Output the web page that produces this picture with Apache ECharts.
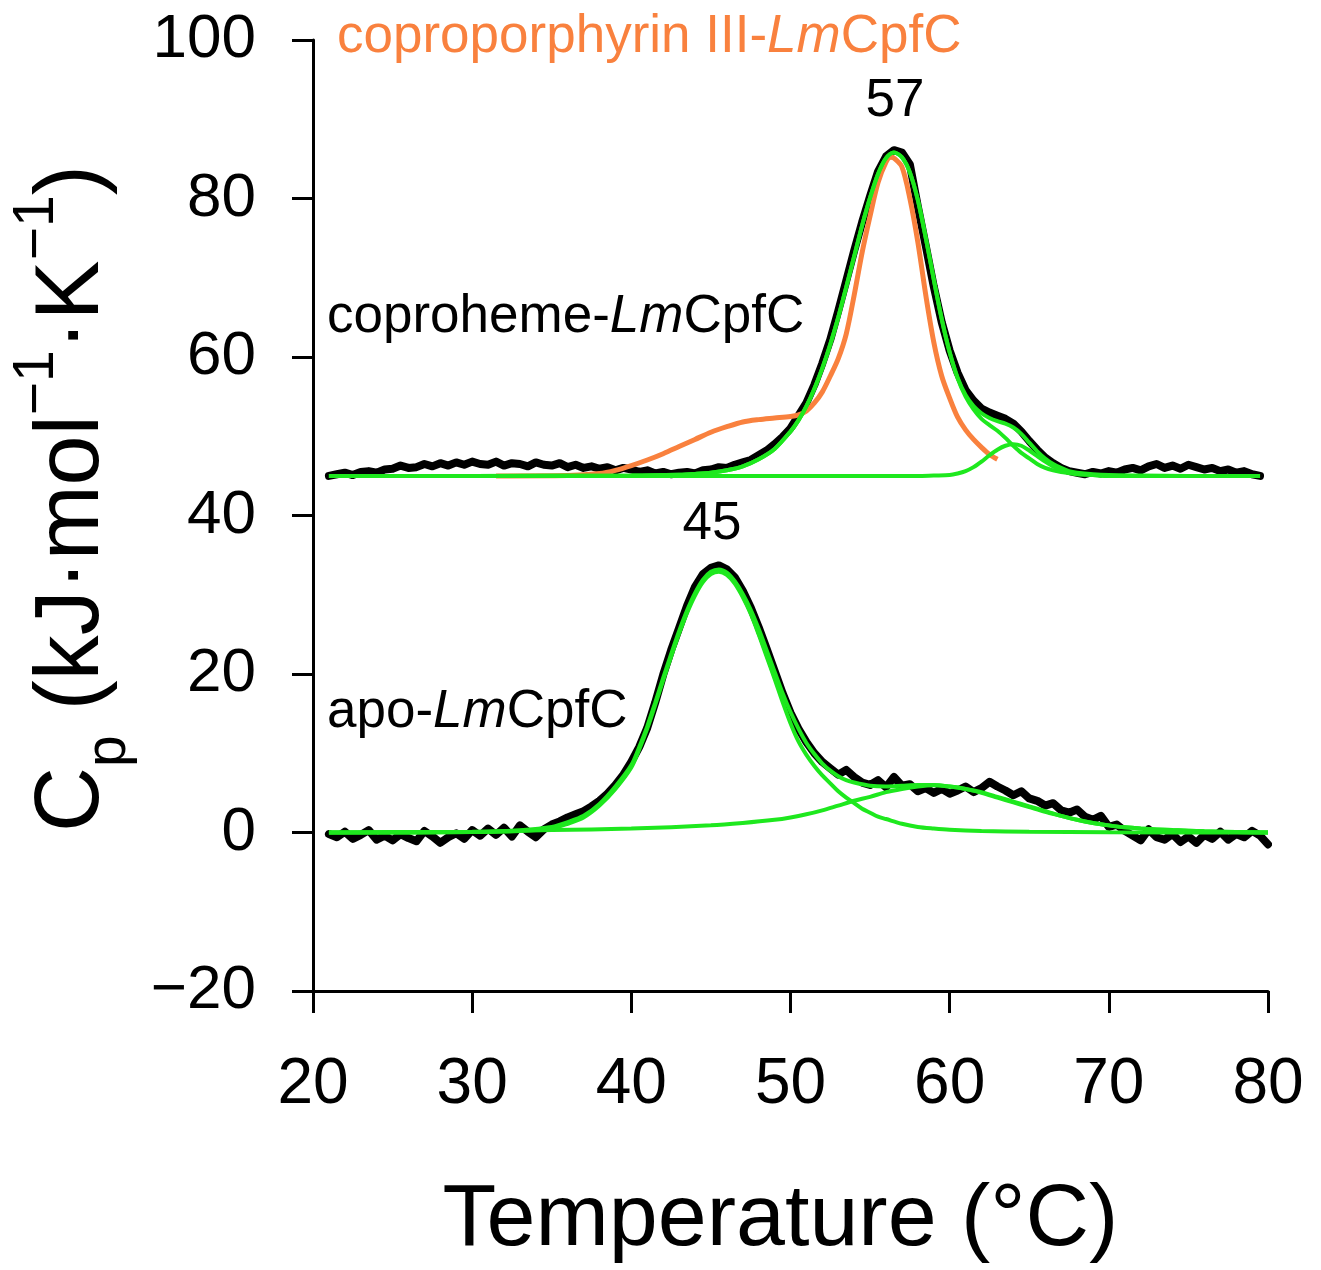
<!DOCTYPE html>
<html>
<head>
  <meta charset="utf-8">
  <title>DSC LmCpfC</title>
  <script src="https://cdn.jsdelivr.net/npm/echarts/dist/echarts.min.js"></script>
  <style type="text/css">
    body { margin: 0; background: #fff; }
    #chart { width: 1321px; height: 1270px; }
  </style>
</head>
<body>
<div id="chart"></div>
<script>
  // 扫描数据：起始温度 21 °C，步长 0.5 °C
  var scanStart = 21;
  var scanStep = 0.5;

  // coproheme-LmCpfC 实测 Cp (kJ/mol/K)，21.0 ~ 79.5 °C
  var cpCoproheme = [
    45.0, 45.2, 45.4, 45.1, 45.5, 45.6, 45.4, 45.8, 45.9, 46.3,
    46.0, 46.1, 46.5, 46.2, 46.6, 46.3, 46.7, 46.4, 46.8, 46.5,
    46.4, 46.8, 46.3, 46.6, 46.5, 46.2, 46.7, 46.4, 46.3, 46.6,
    46.1, 46.4, 46.0, 46.2, 45.9, 46.1, 45.7, 46.0, 45.8, 45.5,
    45.7, 45.3, 45.5, 45.2, 45.4, 45.5, 45.3, 45.7, 45.8, 46.1,
    46.0, 46.4, 46.7, 47.0, 47.6, 48.2, 49.0, 49.9, 51.0, 52.6,
    54.2, 56.5, 59.2, 62.2, 65.8, 69.6, 73.4, 77.0, 80.3, 83.4,
    85.3, 86.1, 85.8, 84.3, 79.0, 74.0, 68.9, 64.4, 60.8, 58.0,
    55.8, 54.5, 53.5, 53.0, 52.6, 52.2, 51.6, 50.6, 49.4, 48.3,
    47.3, 46.6, 46.0, 45.6, 45.4, 45.2, 45.5, 45.3, 45.6, 45.4,
    45.8, 46.0, 45.7, 46.2, 46.5, 46.0, 46.3, 45.9, 46.4, 46.1,
    45.8, 46.0, 45.6, 45.8, 45.4, 45.6, 45.2, 45.0
  ];

  // apo-LmCpfC 实测 Cp，21.0 ~ 80.0 °C
  var cpApo = [
    -0.2, -0.6, 0.1, -0.8, -0.3, 0.3, -0.9, -0.4, -1.0, -0.2,
    -0.7, -1.1, 0.2, -0.5, -1.3, -0.6, -0.1, -0.8, 0.3, -0.4,
    0.5, -0.3, 0.6, -0.5, 0.9, 0.1, -0.6, 0.4, 1.0, 1.4,
    1.9, 2.3, 2.7, 3.3, 4.0, 4.9, 6.0, 7.3, 8.9, 10.8,
    13.2, 16.4, 19.9, 23.0, 25.8, 28.6, 31.0, 32.6, 33.4, 33.7,
    33.2, 32.2, 30.5, 28.4, 25.9, 23.2, 20.4, 17.6, 15.1, 13.1,
    11.4, 10.0, 8.9, 8.1, 7.3, 7.9, 7.0, 6.3, 6.0, 6.6,
    5.7, 7.0, 5.9, 6.1, 5.2, 5.6, 5.0, 5.5, 4.9, 5.3,
    5.8, 5.1, 5.6, 6.4, 5.8, 5.3, 4.7, 5.2, 4.3, 4.0,
    3.4, 3.7, 2.8, 2.5, 2.9, 2.0, 1.6, 2.1, 0.7, 1.0,
    0.2, -0.4, -1.0, 0.4, -0.6, -0.9, -0.2, -1.2, -0.5, -1.3,
    -0.3, -0.8, 0.1, -0.9, -0.2, -0.6, 0.2, -0.4, -1.5
  ];

  // coproheme-LmCpfC 拟合：总拟合、主峰、64 °C 小峰
  var fitCoprohemeTotal = [
    [21, 45.0], [30, 45.0], [40, 45.05], [43, 45.15], [44, 45.25], [45, 45.4], [46, 45.7],
    [47, 46.2], [48, 47.1], [49, 48.4], [50, 50.6], [50.5, 52.0], [51, 53.8], [51.5, 56.0],
    [52, 58.6], [52.5, 61.6], [53, 65.0], [53.5, 68.8], [54, 72.7], [54.5, 76.6], [55, 80.1],
    [55.5, 83.1], [56, 85.1], [56.5, 85.8], [57, 85.2], [57.5, 83.3], [58, 79.8], [58.5, 75.0],
    [59, 69.8], [59.5, 64.8], [60, 60.6], [60.5, 57.4], [61, 55.2], [61.5, 53.8], [62, 52.9],
    [62.5, 52.3], [63, 51.9], [63.5, 51.6], [64, 51.1], [64.5, 50.3], [65, 49.2], [65.5, 48.1],
    [66, 47.2], [66.5, 46.5], [67, 46.0], [67.5, 45.6], [68, 45.4], [69, 45.2], [70, 45.1],
    [72, 45.05], [75, 45.0], [79.5, 45.0]
  ];
  var fitCoprohemeMain = [
    [21, 45.0], [30, 45.0], [40, 45.05], [43, 45.15], [44, 45.25], [45, 45.4], [46, 45.7],
    [47, 46.2], [48, 47.1], [49, 48.4], [50, 50.6], [50.5, 52.0], [51, 53.8], [51.5, 56.0],
    [52, 58.6], [52.5, 61.6], [53, 65.0], [53.5, 68.8], [54, 72.7], [54.5, 76.6], [55, 80.1],
    [55.5, 83.1], [56, 85.1], [56.5, 85.8], [57, 85.2], [57.5, 83.3], [58, 79.8], [58.5, 75.0],
    [59, 69.8], [59.5, 64.8], [60, 60.6], [60.5, 57.3], [61, 55.0], [61.5, 53.4], [62, 52.2],
    [62.5, 51.4], [63, 50.7], [63.5, 49.8], [64, 48.8], [64.5, 47.9], [65, 47.2], [65.5, 46.5],
    [66, 46.0], [66.5, 45.7], [67, 45.5], [67.5, 45.35], [68, 45.2], [69, 45.1], [70, 45.0],
    [79.5, 45.0]
  ];
  var fitCoprohemeMinor = [
    [21, 45.0], [58, 45.0], [59, 45.05], [60, 45.1], [60.5, 45.3], [61, 45.6], [61.5, 46.1],
    [62, 46.8], [62.5, 47.6], [63, 48.3], [63.5, 48.8], [64, 49.0], [64.5, 48.8], [65, 48.2],
    [65.5, 47.5], [66, 46.8], [66.5, 46.2], [67, 45.8], [67.5, 45.5], [68, 45.3], [69, 45.1],
    [70, 45.0], [79.5, 45.0]
  ];

  // coproporphyrin III-LmCpfC 曲线
  var cpCoproporphyrin = [
    [31.5, 45.0], [36, 45.05], [38, 45.3], [39, 45.7], [40, 46.3], [41, 47.0], [42, 47.8],
    [43, 48.7], [44, 49.6], [45, 50.5], [46, 51.2], [47, 51.8], [48, 52.1], [49, 52.3],
    [50, 52.5], [50.5, 52.7], [51, 53.2], [51.5, 54.2], [52, 55.6], [52.5, 57.6], [53, 59.8],
    [53.5, 62.9], [54, 67.8], [54.5, 73.2], [55, 77.8], [55.5, 82.0], [56, 84.6], [56.3, 85.2],
    [56.5, 85.1], [57, 84.0], [57.5, 80.0], [58, 74.5], [58.5, 67.8], [59, 61.9], [59.5, 57.6],
    [60, 54.8], [60.5, 52.4], [61, 50.8], [61.5, 49.6], [62, 48.6], [62.5, 47.7], [63, 47.1]
  ];

  // apo-LmCpfC 拟合：总拟合、45 °C 主峰、宽峰
  var fitApoTotal = [
    [21, 0.0], [30, 0.05], [33, 0.3], [35, 0.7], [36, 1.3], [37, 2.1], [38, 3.6], [39, 5.8],
    [40, 8.5], [40.5, 10.8], [41, 13.4], [41.5, 16.4], [42, 19.5], [42.5, 22.5], [43, 25.4],
    [43.5, 28.0], [44, 30.2], [44.5, 31.9], [45, 32.9], [45.5, 33.2], [46, 32.8], [46.5, 31.7],
    [47, 30.1], [47.5, 28.1], [48, 25.7], [48.5, 23.0], [49, 20.3], [49.5, 17.6], [50, 15.2],
    [50.5, 13.1], [51, 11.3], [51.5, 9.9], [52, 8.7], [52.5, 7.8], [53, 7.1], [53.5, 6.6],
    [54, 6.3], [55, 5.9], [56, 5.8], [57, 5.9], [58, 6.0], [59, 6.0], [60, 5.8], [61, 5.5],
    [62, 5.1], [63, 4.5], [64, 3.9], [65, 3.3], [66, 2.7], [67, 2.1], [68, 1.6], [69, 1.2],
    [70, 0.9], [71, 0.65], [72, 0.5], [74, 0.3], [76, 0.15], [78, 0.07], [80, 0.0]
  ];
  var fitApoMain = [
    [21, 0.0], [30, 0.05], [33, 0.2], [35, 0.5], [36, 1.1], [37, 1.9], [38, 3.4], [39, 5.5],
    [40, 8.2], [40.5, 10.5], [41, 13.1], [41.5, 16.1], [42, 19.2], [42.5, 22.2], [43, 25.1],
    [43.5, 27.7], [44, 29.9], [44.5, 31.6], [45, 32.6], [45.5, 32.9], [46, 32.5], [46.5, 31.4],
    [47, 29.7], [47.5, 27.6], [48, 25.0], [48.5, 22.2], [49, 19.4], [49.5, 16.5], [50, 13.8],
    [50.5, 11.5], [51, 9.8], [51.5, 8.4], [52, 7.2], [52.5, 6.2], [53, 5.2], [53.5, 4.4],
    [54, 3.7], [54.5, 3.0], [55, 2.5], [55.5, 2.0], [56, 1.7], [57, 1.1], [58, 0.7], [59, 0.5],
    [60, 0.35], [62, 0.2], [65, 0.1], [70, 0.03], [80, 0.0]
  ];
  var fitApoBroad = [
    [21, 0.0], [25, 0.05], [30, 0.1], [35, 0.3], [40, 0.5], [45, 0.9], [47, 1.2], [49, 1.6],
    [50, 1.9], [51, 2.3], [52, 2.8], [53, 3.4], [54, 4.0], [55, 4.5], [56, 5.1], [57, 5.5],
    [58, 5.8], [59, 5.95], [60, 5.8], [61, 5.5], [62, 5.0], [63, 4.4], [64, 3.8], [65, 3.2],
    [66, 2.6], [67, 2.1], [68, 1.6], [69, 1.2], [70, 0.9], [71, 0.65], [72, 0.5], [74, 0.3],
    [76, 0.15], [78, 0.07], [80, 0.0]
  ];

  var xTicks = [20, 30, 40, 50, 60, 70, 80];
  var yTicks = [-20, 0, 20, 40, 60, 80, 100];

  var FONT = 'Liberation Sans';
  var GREEN = '#1ee81e';
  var ORANGE = '#f9813e';

  // 把等间距扫描值转成 [温度, Cp]
  function toPairs(values) {
    var out = [];
    for (var i = 0; i < values.length; i++) {
      out.push([scanStart + i * scanStep, values[i]]);
    }
    return out;
  }

  function scanSeries(name, values) {
    return {
      name: name, type: 'line', data: toPairs(values), showSymbol: false,
      lineStyle: { color: '#000', width: 8, cap: 'round', join: 'round' },
      z: 2, silent: true
    };
  }

  function fitSeries(name, data, color, width, z) {
    return {
      name: name, type: 'line', data: data, showSymbol: false, smooth: 0.3,
      lineStyle: { color: color, width: width }, z: z, silent: true
    };
  }

  // 纵轴标题：上下标用单独的文字块拼起来，再整体旋转 90°
  function buildYTitle() {
    var ctx = document.createElement('canvas').getContext('2d');
    var parts = [
      { t: 'C', size: 90, dy: 0 },
      { t: 'p', size: 57, dy: 25 },
      { t: ' (kJ\u00b7mol', size: 90, dy: 0 },
      { t: '\u22121', size: 57, dy: -47 },
      { t: '\u00b7K', size: 90, dy: 0 },
      { t: '\u22121', size: 57, dy: -47 },
      { t: ')', size: 90, dy: 0 }
    ];
    var x = 0;
    var children = [];
    parts.forEach(function (p) {
      var font = p.size + 'px "' + FONT + '"';
      ctx.font = font;
      children.push({
        type: 'text', x: x, y: p.dy - 0.3465 * p.size,
        style: { text: p.t, font: font, fill: '#000', textAlign: 'left', textVerticalAlign: 'middle' }
      });
      x += ctx.measureText(p.t).width;
    });
    return { type: 'group', x: 104, y: 832, rotation: Math.PI / 2, children: children };
  }

  function label(text, x, y, color, italicPart) {
    var style = {
      textVerticalAlign: 'middle', textAlign: italicPart ? 'left' : 'center',
      rich: {
        n: { fontSize: 53, fontFamily: FONT, fill: color },
        i: { fontSize: 53, fontFamily: FONT, fontStyle: 'italic', fill: color }
      }
    };
    style.text = italicPart ? '{n|' + text + '}{i|Lm}{n|CpfC}' : '{n|' + text + '}';
    return { type: 'text', x: x, y: y, style: style };
  }

  var chart = echarts.init(document.getElementById('chart'));

  var option = {
    animation: false,
    textStyle: { fontFamily: FONT },
    grid: { left: 313, right: 53, top: 40, bottom: 278 },
    xAxis: {
      type: 'value', min: xTicks[0], max: xTicks[xTicks.length - 1], interval: 10,
      name: 'Temperature (°C)', nameLocation: 'middle', nameGap: 186,
      nameTextStyle: { fontSize: 88, color: '#000', fontFamily: FONT, padding: [0, 20, 0, 0] },
      axisLine: { onZero: false, lineStyle: { color: '#000', width: 3 } },
      axisTick: { length: 22, lineStyle: { color: '#000', width: 3 } },
      axisLabel: { fontSize: 64, color: '#000', margin: 62, fontFamily: FONT },
      splitLine: { show: false }
    },
    yAxis: {
      type: 'value', min: yTicks[0], max: yTicks[yTicks.length - 1], interval: 20,
      axisLine: { onZero: false, lineStyle: { color: '#000', width: 3 } },
      axisTick: { length: 21, lineStyle: { color: '#000', width: 3 } },
      axisLabel: {
        fontSize: 62, color: '#000', margin: 57, fontFamily: FONT,
        formatter: function (v) { return String(v).replace('-', '\u2212'); }
      },
      splitLine: { show: false }
    },
    graphic: [
      buildYTitle(),
      label('coproporphyrin III-', 337, 37, ORANGE, true),
      label('57', 895, 101, '#000', false),
      label('coproheme-', 327, 317, '#000', true),
      label('45', 712, 524, '#000', false),
      label('apo-', 327, 712, '#000', true)
    ],
    series: [
      scanSeries('coproheme-LmCpfC', cpCoproheme),
      scanSeries('apo-LmCpfC', cpApo),
      fitSeries('coproporphyrin III-LmCpfC', cpCoproporphyrin, ORANGE, 5, 3),
      fitSeries('coproheme fit', fitCoprohemeTotal, GREEN, 4, 4),
      fitSeries('coproheme main', fitCoprohemeMain, GREEN, 4, 4),
      fitSeries('coproheme minor', fitCoprohemeMinor, GREEN, 4, 4),
      fitSeries('apo fit', fitApoTotal, GREEN, 4, 4),
      fitSeries('apo main', fitApoMain, GREEN, 4, 4),
      fitSeries('apo broad', fitApoBroad, GREEN, 4, 4)
    ]
  };

  chart.setOption(option);
</script>
</body>
</html>
